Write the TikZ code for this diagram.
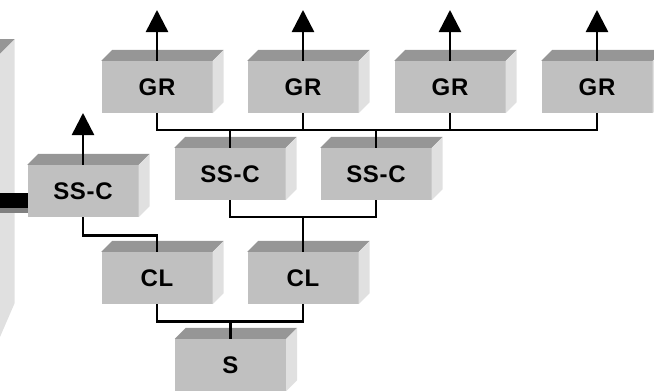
\documentclass[tikz,border=0pt]{standalone}
\usepackage{fontspec}
\newfontfamily\labelfont{Liberation Sans}[LetterSpace=3]
\usetikzlibrary{arrows.meta}
\definecolor{frontgray}{HTML}{C0C0C0}
\definecolor{topgray}{HTML}{969696}
\definecolor{sidegray}{HTML}{E0E0E0}
\definecolor{bargray}{HTML}{808080}
\begin{document}
\begin{tikzpicture}[x=1pt,y=-1pt,line join=miter]
	\def \rowgr{87}
	\def \rowmid{174}
	\def \rowcl{278}
	\def \rowbot{365}
	\tikzstyle{blk}=[fill=frontgray,minimum width=111pt,minimum height=52pt,inner sep=0pt,text=black,font=\fontsize{24}{28}\labelfont\bfseries\selectfont]
	\tikzstyle{wire}=[line width=2.2pt]
	\tikzstyle{up}=[line width=2.5pt,-{Triangle[width=22pt,length=22pt]}]
	\useasboundingbox (0,0) rectangle (654,391);

	% wall and bar on the left
	\fill[sidegray] (0,53.7) -- (14.7,39) -- (14.7,303) -- (0,337) -- cycle;
	\fill[topgray] (0,39) -- (14.7,39) -- (0,53.7) -- cycle;
	\fill[black] (0,192.7) rectangle (28,207.7);
	\fill[bargray] (0,207.7) rectangle (28,212.7);

	% top row
	\node[blk] 	(gr1)	at (157,\rowgr)		{GR};
	\node[blk] 	(gr2)	at (303,\rowgr)		{GR};
	\node[blk] 	(gr3)	at (450,\rowgr)		{GR};
	\node[blk] 	(gr4)	at (597,\rowgr)		{GR};

	% middle rows
	\node[blk] 	(ssc0)	at (83,191)		{SS-C};
	\node[blk] 	(ssc1)	at (230,\rowmid)	{SS-C};
	\node[blk] 	(ssc2)	at (376,\rowmid)	{SS-C};
	\node[blk] 	(cl1)	at (157,\rowcl)		{CL};
	\node[blk] 	(cl2)	at (303,\rowcl)		{CL};

	% bottom
	\node[blk] 	(sys)	at (230.5,\rowbot)	{S};

	% top and side faces
	\foreach \b in {gr1,gr2,gr3,gr4,ssc0,ssc1,ssc2,cl1,cl2,sys} {
		\fill[topgray] (\b.north west) -- ([xshift=11pt,yshift=11pt]\b.north west) -- ([xshift=11pt,yshift=11pt]\b.north east) -- (\b.north east) -- cycle;
		\fill[sidegray] (\b.north east) -- ([xshift=11pt,yshift=11pt]\b.north east) -- ([xshift=11pt,yshift=11pt]\b.south east) -- (\b.south east) -- cycle;
	}

	\coordinate (tiptop) at (0,10);
	\coordinate (tipleft) at (0,113);
	\coordinate (grbus) at (0,130);
	\coordinate (midbus) at (0,217);
	\coordinate (leftbus) at (0,235.5);
	\coordinate (clbus) at (0,321.5);

	% outputs
	\foreach \b in {gr1,gr2,gr3,gr4}
		\draw[up] (\b.north) -- (\b.north |- tiptop);
	\draw[up] (ssc0.north) -- (ssc0.north |- tipleft);

	% links
	\draw[wire] (gr1.south) -- (gr1.south |- grbus) -- (gr4.south |- grbus) -- (gr4.south);
	\foreach \b in {gr2,gr3}
		\draw[wire] (\b.south) -- (\b.south |- grbus);
	\foreach \b in {ssc1,ssc2}
		\draw[wire] (\b.north) -- (\b.north |- grbus);
	\draw[wire] (ssc1.south) -- (ssc1.south |- midbus) -- (ssc2.south |- midbus) -- (ssc2.south);
	\draw[wire] (cl2.north) -- (cl2.north |- midbus);
	\draw[wire] (ssc0.south) -- (ssc0.south |- leftbus) -- (cl1.north |- leftbus) -- (cl1.north);
	\draw[wire] (cl1.south) -- (cl1.south |- clbus) -- (cl2.south |- clbus) -- (cl2.south);
	\draw[wire] (sys.north) -- (sys.north |- clbus);
\end{tikzpicture}
\end{document}
